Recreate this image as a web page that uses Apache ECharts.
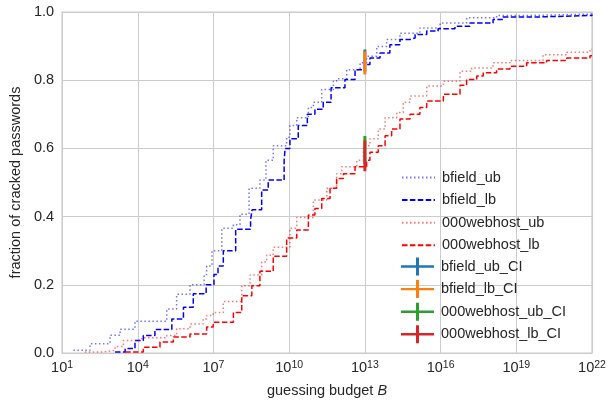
<!DOCTYPE html>
<html>
<head>
<meta charset="utf-8">
<script src="https://cdn.jsdelivr.net/npm/echarts@6/dist/echarts.min.js"></script>
<style>
  html, body { margin: 0; padding: 0; background: #fff; }
  #chart { width: 616px; height: 403px; }
</style>
</head>
<body>
<div id="chart"></div>
<script>
// x values are log10 of the guessing budget, y is fraction cracked (step jumps)
const bfieldUbX = [1.45, 2.11, 2.9, 3.3, 3.89, 5.15, 5.54, 6.07, 6.63, 6.73, 6.94, 7.33, 7.79, 8.05, 8.41, 8.84, 9.08, 9.37, 9.9, 10.03, 10.3, 10.76, 10.96, 11.29, 11.75, 11.88, 12.28, 12.81, 13.07, 13.47, 13.86, 14.39, 15.18, 15.98, 17.03, 18.22, 19.66, 22];
const bfieldUbY = [0.008, 0.027, 0.052, 0.07, 0.093, 0.129, 0.172, 0.2, 0.23, 0.255, 0.3, 0.366, 0.376, 0.407, 0.483, 0.507, 0.565, 0.608, 0.633, 0.667, 0.69, 0.72, 0.735, 0.773, 0.797, 0.804, 0.831, 0.851, 0.87, 0.899, 0.919, 0.938, 0.953, 0.968, 0.983, 0.99, 0.994, 0.995];

const bfieldLbX = [3.1, 3.5, 3.89, 4.22, 4.68, 5.35, 5.81, 6.2, 6.71, 7.02, 7.18, 7.39, 7.88, 8.47, 8.53, 8.91, 9.17, 9.8, 9.84, 10.03, 10.36, 10.72, 11.02, 11.35, 11.66, 12.21, 12.61, 13.0, 13.2, 13.6, 13.99, 14.39, 14.79, 14.99, 15.45, 15.9, 16.57, 17.16, 18.08, 18.47, 19.66, 22];
const bfieldLbY = [0.003, 0.013, 0.037, 0.051, 0.069, 0.1, 0.134, 0.174, 0.2, 0.23, 0.255, 0.3, 0.363, 0.39, 0.42, 0.478, 0.507, 0.565, 0.6, 0.628, 0.667, 0.7, 0.715, 0.735, 0.778, 0.802, 0.831, 0.846, 0.865, 0.88, 0.904, 0.919, 0.924, 0.934, 0.944, 0.951, 0.958, 0.968, 0.978, 0.985, 0.99, 0.993];

const webhostUbX = [1.9, 2.64, 3.1, 3.43, 4.16, 5.15, 5.54, 6.07, 6.59, 6.73, 6.99, 7.39, 8.12, 8.45, 8.91, 9.11, 9.37, 10.03, 10.3, 10.96, 11.49, 11.88, 12.08, 12.68, 12.94, 13.2, 13.53, 13.8, 14.26, 14.52, 14.79, 15.45, 16.11, 16.77, 17.23, 18.08, 18.75, 20.06, 21.0, 21.92, 22];
const webhostUbY = [0.003, 0.008, 0.019, 0.037, 0.045, 0.051, 0.071, 0.085, 0.1, 0.11, 0.119, 0.151, 0.197, 0.229, 0.267, 0.287, 0.31, 0.366, 0.397, 0.449, 0.483, 0.526, 0.546, 0.565, 0.608, 0.628, 0.657, 0.69, 0.705, 0.735, 0.754, 0.783, 0.797, 0.826, 0.836, 0.851, 0.858, 0.875, 0.882, 0.891, 0.891];

const webhostLbX = [3.5, 4.22, 4.88, 5.41, 6.07, 6.73, 6.99, 7.79, 8.12, 8.52, 8.84, 9.37, 9.9, 10.3, 10.76, 11.02, 11.29, 11.62, 11.88, 12.15, 12.61, 13.07, 13.2, 13.53, 13.8, 14.06, 14.39, 14.79, 15.18, 15.45, 16.11, 16.77, 17.03, 17.43, 17.69, 18.22, 18.75, 19.41, 20.2, 21.0, 21.92, 22];
const webhostLbY = [0.003, 0.017, 0.032, 0.047, 0.056, 0.076, 0.09, 0.119, 0.168, 0.197, 0.24, 0.284, 0.337, 0.361, 0.405, 0.424, 0.453, 0.483, 0.512, 0.526, 0.546, 0.565, 0.589, 0.608, 0.637, 0.657, 0.686, 0.7, 0.72, 0.739, 0.759, 0.785, 0.802, 0.812, 0.822, 0.833, 0.841, 0.851, 0.858, 0.865, 0.872, 0.872];

// confidence intervals at B = 10^13: [low, high]
const ciX = 13;
const bfieldUbCI = [0.825, 0.89];
const bfieldLbCI = [0.817, 0.885];
const webhostUbCI = [0.555, 0.636];
const webhostLbCI = [0.533, 0.623];

const xTickExponents = [1, 4, 7, 10, 13, 16, 19, 22];
const yTicks = [0, 0.2, 0.4, 0.6, 0.8, 1.0];

const textColor = "#262626";
const gridColor = "#cccccc";
const crossIcon = "path://M0,7.8H33V10.2H0Z M15,0H18V18H15Z";

function pairs(xs, ys) {
  return xs.map((x, i) => [x, ys[i]]);
}

function stepSeries(name, xs, ys, color, dash, opacity) {
  return {
    name: name,
    type: "line",
    step: "end",
    symbol: "none",
    data: pairs(xs, ys),
    itemStyle: { color: color, opacity: opacity },
    lineStyle: { color: color, width: 1.5, type: dash, opacity: opacity },
    emphasis: { disabled: true },
    animation: false,
  };
}

function ciSeries(name, ci, color) {
  return {
    name: name,
    type: "line",
    symbol: "none",
    data: [[ciX, ci[0]], [ciX, ci[1]]],
    itemStyle: { color: color },
    lineStyle: { color: color, width: 3 },
    emphasis: { disabled: true },
    animation: false,
    z: 5,
  };
}

const dotted = [1.5, 2.5];
const dashed = [5.5, 2.4];

// legend entry for a step line: only the line sample, no marker
function lineEntry(name) {
  return { name: name, itemStyle: { opacity: 0 } };
}

const chart = echarts.init(document.getElementById("chart"), null, { renderer: "canvas" });

const legendText = { color: textColor, fontSize: 14.5, padding: [0, 0, 0, 2] };

const option = {
  backgroundColor: "#ffffff",
  textStyle: { fontFamily: "Liberation Sans, Arial, sans-serif" },
  grid: {
    left: 62,
    right: 24,
    top: 12,
    bottom: 47,
    show: true,
    borderColor: gridColor,
    borderWidth: 1.25,
  },
  legend: [
    {
      orient: "vertical",
      left: 396,
      top: 165,
      itemWidth: 33,
      itemHeight: 18,
      itemGap: 7.6,
      textStyle: legendText,
      data: [
        lineEntry("bfield_ub"),
        lineEntry("bfield_lb"),
        lineEntry("000webhost_ub"),
        lineEntry("000webhost_lb"),
      ],
    },
    {
      orient: "vertical",
      left: 396,
      top: 252.5,
      itemWidth: 33,
      itemHeight: 18,
      itemGap: 4.6,
      textStyle: legendText,
      data: [
        { name: "bfield_ub_CI", icon: crossIcon },
        { name: "bfield_lb_CI", icon: crossIcon },
        { name: "000webhost_ub_CI", icon: crossIcon },
        { name: "000webhost_lb_CI", icon: crossIcon },
      ],
    },
  ],
  xAxis: {
    type: "value",
    min: 1,
    max: 22,
    interval: 3,
    name: "{a|guessing budget }{b|B}",
    nameLocation: "middle",
    nameGap: 30,
    nameTextStyle: {
      rich: {
        a: { fontSize: 14.5, color: textColor },
        b: { fontSize: 14.5, color: textColor, fontStyle: "italic" },
      },
    },
    axisLine: { show: false },
    axisTick: { show: false },
    splitLine: { show: true, lineStyle: { color: gridColor, width: 1 } },
    axisLabel: {
      margin: 7,
      formatter: function (v) {
        return "{b|10}{s|" + v + "}";
      },
      rich: {
        b: { fontSize: 14.5, color: textColor, verticalAlign: "bottom" },
        s: { fontSize: 10.5, color: textColor, verticalAlign: "top" },
      },
    },
  },
  yAxis: {
    type: "value",
    min: 0,
    max: 1,
    interval: 0.2,
    name: "fraction of cracked passwords",
    nameLocation: "middle",
    nameGap: 36,
    nameTextStyle: { fontSize: 14.5, color: textColor },
    axisLine: { show: false },
    axisTick: { show: false },
    splitLine: { show: true, lineStyle: { color: gridColor, width: 1 } },
    axisLabel: {
      margin: 8,
      fontSize: 14.5,
      color: textColor,
      formatter: function (v) {
        return v.toFixed(1);
      },
    },
  },
  series: [
    stepSeries("bfield_ub", bfieldUbX, bfieldUbY, "#0000ff", dotted, 0.55),
    stepSeries("bfield_lb", bfieldLbX, bfieldLbY, "#0000ff", dashed, 1),
    stepSeries("000webhost_ub", webhostUbX, webhostUbY, "#ff0000", dotted, 0.55),
    stepSeries("000webhost_lb", webhostLbX, webhostLbY, "#ff0000", dashed, 1),
    ciSeries("bfield_ub_CI", bfieldUbCI, "#1f77b4"),
    ciSeries("bfield_lb_CI", bfieldLbCI, "#ff7f0e"),
    ciSeries("000webhost_ub_CI", webhostUbCI, "#2ca02c"),
    ciSeries("000webhost_lb_CI", webhostLbCI, "#d62728"),
  ],
};

chart.setOption(option);
</script>
</body>
</html>
